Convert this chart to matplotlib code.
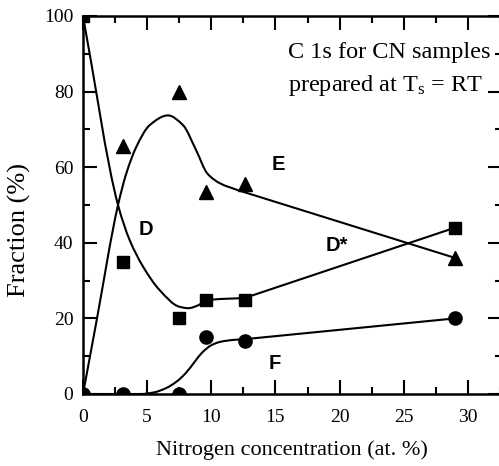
import numpy as np
import matplotlib
matplotlib.use("Agg")
import matplotlib.pyplot as plt
from matplotlib.path import Path
from matplotlib.patches import PathPatch

plt.rcParams["font.family"] = ["Liberation Serif", "DejaVu Serif"]
plt.rcParams["mathtext.fontset"] = "custom"
plt.rcParams["mathtext.rm"] = "Liberation Serif"
plt.rcParams["mathtext.it"] = "Liberation Serif:italic"

# Measured fractions of the C 1s components vs nitrogen content
n_conc = [0.0, 3.1, 7.5, 9.6, 12.6, 29.0]
frac_D = [100.0, 35.0, 20.0, 25.0, 25.0, 44.0]
frac_E = [0.0, 65.5, 80.0, 53.5, 55.5, 36.0]
frac_F = [0.0, 0.0, 0.0, 15.0, 14.0, 20.0]

# Guide-to-the-eye curves (knots along each hand-drawn trend line)
guide_D_x = [0.0, 2.73, 3.64, 4.68, 5.97, 7.5, 8.2, 9.0, 9.6, 12.6, 29.0]
guide_D_y = [100.0, 50.0, 40.7, 33.7, 27.5, 23.1, 22.7, 23.5, 24.8, 25.4, 44.0]
guide_E_x = [0.0, 1.0, 2.73, 3.38, 4.16, 5.19, 6.62, 7.8, 8.83, 9.7, 10.7, 12.0, 29.0]
guide_E_y = [0.0, 18.3, 50.0, 58.4, 65.4, 71.1, 73.7, 71.1, 64.4, 58.3, 55.7, 54.0, 36.0]
guide_F_x = [0.0, 4.5, 5.5, 6.5, 7.3, 8.0, 8.7, 9.3, 10.0, 10.7, 11.7, 12.6, 29.0]
guide_F_y = [0.0, 0.0, 0.4, 1.6, 3.3, 5.5, 8.5, 11.0, 12.9, 13.8, 14.3, 14.5, 20.0]


def pchip_slopes(x, y):
    x = np.asarray(x, float)
    y = np.asarray(y, float)
    h = np.diff(x)
    delta = np.diff(y) / h
    d = np.zeros_like(y)
    for k in range(1, len(x) - 1):
        if delta[k - 1] * delta[k] <= 0:
            d[k] = 0.0
        else:
            w1 = 2 * h[k] + h[k - 1]
            w2 = h[k] + 2 * h[k - 1]
            d[k] = (w1 + w2) / (w1 / delta[k - 1] + w2 / delta[k])
    d[0] = delta[0]
    d[-1] = delta[-1]
    return d


def smooth_path(x, y):
    """Cubic Bezier path through the knots; the last stretch is a straight line."""
    d = pchip_slopes(x[:-1], y[:-1])
    verts = [(x[0], y[0])]
    codes = [Path.MOVETO]
    for k in range(len(x) - 2):
        h = x[k + 1] - x[k]
        verts += [(x[k] + h / 3, y[k] + d[k] * h / 3),
                  (x[k + 1] - h / 3, y[k + 1] - d[k + 1] * h / 3),
                  (x[k + 1], y[k + 1])]
        codes += [Path.CURVE4] * 3
    verts.append((x[-1], y[-1]))
    codes.append(Path.LINETO)
    return Path(verts, codes)


fig = plt.figure(figsize=(4.99, 4.66), dpi=100)
ax = fig.add_axes([83 / 499, 72 / 466, 419 / 499, 378 / 466])

for gx, gy in [(guide_D_x, guide_D_y), (guide_E_x, guide_E_y), (guide_F_x, guide_F_y)]:
    ax.add_patch(PathPatch(smooth_path(gx, gy), facecolor="none",
                           edgecolor="black", lw=1.5, capstyle="round",
                           joinstyle="round"))

ax.plot(n_conc, frac_D, ls="none", marker="s", ms=9, color="black")
ax.plot(n_conc, frac_E, ls="none", marker="^", ms=10.5, color="black")
ax.plot(n_conc, frac_F, ls="none", marker="o", ms=9.5, color="black")

ax.set_xlim(0, 32.66)
ax.set_ylim(0, 100)
ax.set_xticks(np.arange(0, 31, 5))
ax.set_xticks(np.arange(2.5, 32.6, 2.5), minor=True)
ax.set_yticks(np.arange(0, 101, 20))
ax.set_yticks(np.arange(10, 100, 20), minor=True)

ax.tick_params(which="both", direction="in", top=True, right=True,
               width=1.5, labelsize=14)
ax.tick_params(which="major", length=10)
ax.tick_params(which="minor", length=5)
ax.tick_params(axis="x", pad=11)
ax.tick_params(axis="y", pad=7)
for s in ax.spines.values():
    s.set_linewidth(1.8)

ax.set_xlabel("Nitrogen concentration (at. %)", fontsize=16)
ax.set_ylabel("Fraction (%)", fontsize=19)
ax.xaxis.set_label_coords(0.499, -0.122)
ax.yaxis.set_label_coords(-0.124, 0.435)

ax.text(16.0, 88.9, "C 1s for CN samples", fontsize=17.5, ha="left", va="baseline")
ax.text(16.0, 80.2, r"prepared at T$_{\rm s}$ = RT", fontsize=17.5,
        ha="left", va="baseline")

sans_bold = dict(family=["Liberation Sans", "DejaVu Sans"], fontweight="bold",
                 fontsize=14.5, va="center", ha="center")
ax.text(4.93, 43.4, "D", **sans_bold)
ax.text(15.2, 60.6, "E", **sans_bold)
ax.text(14.96, 8.1, "F", **sans_bold)
ax.text(19.75, 39.4, "D*", **sans_bold)

fig.savefig("out.png", dpi=100)
